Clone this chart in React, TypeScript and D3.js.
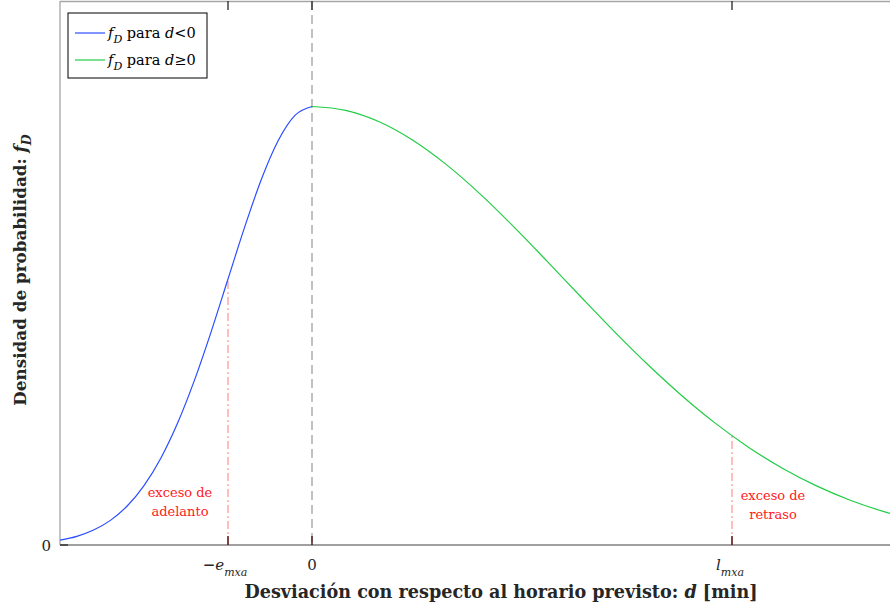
import React from "react";
import * as d3 from "d3";

// Blue branch (d < 0): deviation [min] and probability density
const leftD = [-15, -14, -13, -12, -11, -10, -9, -8, -7, -6, -5, -4, -3, -2, -1, 0];
const leftF = [0.00044, 0.00079, 0.00136, 0.00224, 0.00355, 0.0054, 0.0079, 0.0111, 0.01498, 0.01942, 0.0242, 0.02897, 0.03333, 0.03683, 0.03911, 0.0399];

// Green branch (d >= 0)
const rightD = [0, 2, 4, 6, 8, 10, 12, 14, 16, 18, 20, 22, 24, 26, 28, 30, 32, 34, 36];
const rightF = [0.0399, 0.03955, 0.03851, 0.03683, 0.03461, 0.03195, 0.02897, 0.02581, 0.02259, 0.01942, 0.0164, 0.01361, 0.01109, 0.00888, 0.00699, 0.0054, 0.0041, 0.00306, 0.00224];

// Annotated thresholds
const eMxa = -5;
const lMxa = 25;
const eMxaF = 0.0242;
const lMxaF = 0.00995;

const legendLabels = ["para", "para"];

const W = 890;
const H = 609;
const M = { left: 60, top: 1, right: 900, bottom: 545 };
const FONT = "'DejaVu Serif', 'Liberation Serif', serif";

export default function App() {
  const x = d3.scaleLinear().domain([-15, 35]).range([M.left, M.right]);
  const y = d3.scaleLinear().domain([0, 0.0495]).range([M.bottom, M.top]);
  const line = d3
    .line<[number, number]>()
    .x((p) => x(p[0]))
    .y((p) => y(p[1]))
    .curve(d3.curveMonotoneX);
  const leftPts = leftD.map((d, i) => [d, leftF[i]] as [number, number]);
  const rightPts = rightD.map((d, i) => [d, rightF[i]] as [number, number]);
  const xTicks = [eMxa, 0, lMxa];
  const blue = "#2a4dff";
  const green = "#22cc44";
  const red = "#ff2020";
  const redLine = "#ff8a8a";
  const ink = "#262626";

  return (
    <svg
      width={W}
      height={H}
      style={{ position: "absolute", left: 0, top: 0, background: "#fff" }}
      fontFamily={FONT}
    >
      <defs>
        <clipPath id="clip">
          <rect x={M.left} y={M.top} width={W - M.left} height={M.bottom - M.top} />
        </clipPath>
      </defs>
      {/* axes box */}
      <line x1={M.left} x2={W} y1={M.top + 0.5} y2={M.top + 0.5} stroke="#a6a6a6" strokeWidth={1.3} />
      <line x1={M.left} x2={W} y1={M.bottom} y2={M.bottom} stroke="#808080" strokeWidth={1.3} />
      <line x1={M.left} x2={M.left} y1={M.top} y2={M.bottom} stroke="#a6a6a6" strokeWidth={1.3} />

      {/* zero dashed line */}
      <line
        x1={x(0)}
        x2={x(0)}
        y1={M.top}
        y2={M.bottom}
        stroke="#a0a0a0"
        strokeWidth={1.3}
        strokeDasharray="9,5"
      />

      {/* threshold dash-dot lines */}
      <line x1={x(eMxa)} x2={x(eMxa)} y1={M.bottom} y2={y(eMxaF)} stroke={redLine} strokeWidth={1.1} strokeDasharray="8,3,2,3" />
      <line x1={x(lMxa)} x2={x(lMxa)} y1={M.bottom} y2={y(lMxaF)} stroke={redLine} strokeWidth={1.1} strokeDasharray="8,3,2,3" />

      {/* ticks */}
      {xTicks.map((t) => (
        <g key={t}>
          <line x1={x(t)} x2={x(t)} y1={M.top} y2={M.top + 9} stroke={ink} strokeWidth={1.3} />
          <line x1={x(t)} x2={x(t)} y1={M.bottom} y2={M.bottom - 9} stroke="#3a0000" strokeWidth={1.3} />
        </g>
      ))}
      <line x1={M.left} x2={M.left + 8} y1={M.bottom} y2={M.bottom} stroke={ink} strokeWidth={1.3} />

      {/* curves */}
      <g clipPath="url(#clip)">
        <path d={line(leftPts) || ""} fill="none" stroke={blue} strokeWidth={1.2} />
        <path d={line(rightPts) || ""} fill="none" stroke={green} strokeWidth={1.2} />
      </g>

      {/* tick labels */}
      <text x={M.left - 9} y={M.bottom + 6} textAnchor="end" fontSize={15} fill={ink}>0</text>
      <text x={x(0)} y={M.bottom + 25} textAnchor="middle" fontSize={15} fill={ink}>0</text>
      <text x={x(eMxa) - 3} y={M.bottom + 25} textAnchor="middle" fontSize={15} fill={ink}>
        <tspan fontWeight="bold">−</tspan>
        <tspan fontStyle="italic">e</tspan>
        <tspan fontStyle="italic" fontSize={11} dy={6}>mxa</tspan>
      </text>
      <text x={x(lMxa) - 2} y={M.bottom + 25} textAnchor="middle" fontSize={15} fill={ink}>
        <tspan fontStyle="italic">l</tspan>
        <tspan fontStyle="italic" fontSize={11} dy={6}>mxa</tspan>
      </text>

      {/* annotations */}
      <text x={x(eMxa) - 48} y={497} textAnchor="middle" fontSize={13} fill={red}>exceso de</text>
      <text x={x(eMxa) - 48} y={516} textAnchor="middle" fontSize={13} fill={red}>adelanto</text>
      <text x={x(lMxa) + 41} y={500} textAnchor="middle" fontSize={13} fill={red}>exceso de</text>
      <text x={x(lMxa) + 41} y={519} textAnchor="middle" fontSize={13} fill={red}>retraso</text>

      {/* axis titles */}
      <text x={501} y={598} textAnchor="middle" fontSize={17.6} fontWeight="bold" fill={ink}>
        Desviación con respecto al horario previsto:{" "}
        <tspan fontStyle="italic">d</tspan> [min]
      </text>
      <text
        transform={`translate(26, 270) rotate(-90)`}
        textAnchor="middle"
        fontSize={16.8}
        fontWeight="bold"
        fill={ink}
      >
        Densidad de probabilidad:{" "}
        <tspan fontStyle="italic">f</tspan>
        <tspan fontStyle="italic" fontSize={12.5} dy={5}>D</tspan>
      </text>

      {/* legend */}
      <g>
        <rect x={68} y={13} width={139} height={65} fill="#fff" stroke="#000" strokeWidth={1} />
        {[blue, green].map((c, i) => (
          <g key={i} transform={`translate(0, ${33 + i * 27})`}>
            <line x1={75} x2={105} y1={0} y2={0} stroke={c} strokeWidth={1.2} />
            <text x={108} y={5} fontSize={14.5} fill="#000">
              <tspan fontStyle="italic">f</tspan>
              <tspan fontStyle="italic" fontSize={11} dy={5}>D</tspan>
              <tspan dy={-5}> {legendLabels[i]} </tspan>
              <tspan fontStyle="italic">d</tspan>
              <tspan>{i === 0 ? "<0" : "≥0"}</tspan>
            </text>
          </g>
        ))}
      </g>
    </svg>
  );
}
